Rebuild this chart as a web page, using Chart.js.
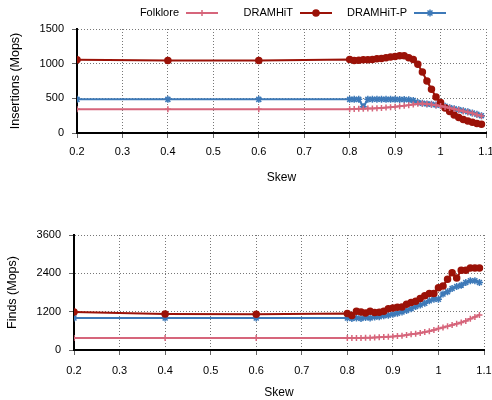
<!DOCTYPE html>
<html>
<head>
<meta charset="utf-8">
<script src="https://cdn.jsdelivr.net/npm/chart.js@4.4.0/dist/chart.umd.min.js"></script>
<style>
  body { margin: 0; background: #fff; }
  .box { position: absolute; left: 0; width: 492px; }
  #top { top: 0; height: 196px; }
  #bottom { top: 200px; height: 200px; }
</style>
</head>
<body>
<div class="box" id="top"><canvas id="insChart"></canvas></div>
<div class="box" id="bottom"><canvas id="findChart"></canvas></div>
<script>
const skew = [0.2, 0.4, 0.6, 0.8, 0.81, 0.82, 0.83, 0.84, 0.85, 0.86, 0.87, 0.88, 0.89, 0.9,
  0.91, 0.92, 0.93, 0.94, 0.95, 0.96, 0.97, 0.98, 0.99, 1.0,
  1.01, 1.02, 1.03, 1.04, 1.05, 1.06, 1.07, 1.08, 1.09];

// insertions (Mops)
const folkloreIns = [344, 342, 342, 344, 345, 348, 350, 352, 355, 358, 362, 366, 370, 377,
  385, 393, 402, 412, 422, 425, 418, 410, 400, 390,
  375, 360, 345, 330, 315, 300, 285, 265, 245];
const dramhitIns = [1058, 1045, 1045, 1060, 1045, 1050, 1055, 1055, 1060, 1070, 1075, 1085, 1095, 1105,
  1115, 1115, 1085, 1060, 990, 880, 750, 630, 520, 440,
  360, 310, 260, 225, 195, 172, 155, 138, 125];
const dramhitPIns = [485, 485, 485, 485, 485, 485, 380, 485, 487, 487, 487, 485, 485, 485,
  483, 483, 480, 470, 440, 430, 420, 415, 405, 400,
  385, 365, 350, 335, 320, 305, 290, 270, 250];

// finds (Mops)
const folkloreFind = [376, 378, 378, 376, 377, 378, 379, 381, 385, 390, 396, 404, 412, 420,
  435, 450, 468, 490, 512, 535, 560, 590, 625, 670,
  705, 740, 780, 820, 860, 910, 975, 1035, 1095];
const dramhitFind = [1190, 1127, 1120, 1140, 1077, 1212, 1190, 1160, 1210, 1175, 1180, 1210, 1295, 1315,
  1335, 1350, 1430, 1485, 1530, 1610, 1700, 1770, 1770, 1945,
  2000, 2215, 2415, 2255, 2495, 2495, 2570, 2570, 2570];
const dramhitPFind = [1000, 1000, 1000, 1000, 985, 1000, 985, 1015, 1000, 1030, 1040, 1070, 1090, 1120,
  1150, 1190, 1240, 1295, 1360, 1410, 1465, 1540, 1590, 1590,
  1750, 1820, 1925, 1990, 2030, 2115, 2170, 2170, 2115];

const seriesNames = ['Folklore', 'DRAMHiT', 'DRAMHiT-P'];
const insTicks = [0, 500, 1000, 1500];
const findTicks = [0, 1200, 2400, 3600];

const colors = ['#d6657b', '#9b1208', '#3d79b8'];
const markers = ['cross', 'circle', 'star'];
const markerSize = [3, 3, 3.5];
const FONT = '"Liberation Sans", Arial, sans-serif';

Chart.defaults.font.family = FONT;
Chart.defaults.color = '#000';

function makeSets(values) {
  return values.map((vals, i) => ({
    label: seriesNames[i],
    data: skew.map((x, j) => ({ x: x, y: vals[j] })),
    borderColor: colors[i],
    backgroundColor: colors[i],
    borderWidth: 2,
    pointStyle: markers[i],
    pointRadius: markerSize[i],
    pointBorderWidth: 1.5,
    tension: 0
  }));
}

// gnuplot-like legend: text first, then line sample with marker
const keyPlugin = {
  id: 'key',
  afterDraw(chart) {
    const ctx = chart.ctx;
    const textEnd = [179, 293, 407];
    ctx.save();
    ctx.font = '11px ' + FONT;
    ctx.textAlign = 'right';
    ctx.textBaseline = 'middle';
    chart.data.datasets.forEach((ds, i) => {
      const y = 13;
      ctx.fillStyle = '#000';
      ctx.fillText(ds.label, textEnd[i], y);
      const x0 = textEnd[i] + 7, x1 = x0 + 32;
      ctx.strokeStyle = ds.borderColor;
      ctx.fillStyle = ds.backgroundColor;
      ctx.lineWidth = 2;
      ctx.beginPath();
      ctx.moveTo(x0, y);
      ctx.lineTo(x1, y);
      ctx.stroke();
      ctx.lineWidth = 1.5;
      Chart.helpers.drawPoint(ctx, {
        pointStyle: ds.pointStyle, radius: ds.pointRadius, borderWidth: 1.5, rotation: 0
      }, (x0 + x1) / 2, y);
    });
    ctx.restore();
  }
};

function makeOptions(o) {
  return {
    responsive: true,
    maintainAspectRatio: false,
    animation: false,
    layout: { padding: { top: o.padTop, right: o.padRight, left: 0, bottom: 0 } },
    plugins: { legend: { display: false }, tooltip: { enabled: false } },
    scales: {
      x: {
        type: 'linear',
        min: 0.2,
        max: 1.1,
        afterFit(s) { s.height = o.xHeight; s.paddingLeft = 0; s.paddingRight = 0; },
        ticks: {
          stepSize: 0.1,
          padding: o.xTickPad,
          font: { size: 11 },
          callback: v => String(Math.round(v * 10) / 10)
        },
        grid: { color: '#777', tickLength: 5, tickColor: '#666' },
        border: { color: '#000', width: 2, dash: [1, 2] },
        title: { display: true, text: 'Skew', font: { size: 12 }, padding: { top: 0, bottom: o.titlePad } }
      },
      y: {
        min: o.yTicks[0],
        max: o.yTicks[o.yTicks.length - 1],
        afterFit(s) { s.width = o.yWidth; },
        afterBuildTicks(s) { s.ticks = o.yTicks.map(v => ({ value: v })); },
        ticks: { padding: 8, font: { size: 11 }, callback: v => String(v) },
        grid: { color: '#777', tickLength: 5, tickColor: '#666' },
        border: { color: '#000', width: 2, dash: [1, 2] },
        title: { display: true, text: o.yTitle, font: { size: 12.5 }, padding: { top: o.yTitlePad, bottom: 0 } }
      }
    }
  };
}

new Chart(document.getElementById('insChart'), {
  type: 'line',
  data: { datasets: makeSets([folkloreIns, dramhitIns, dramhitPIns]) },
  options: makeOptions({
    padTop: 29, padRight: 6, xHeight: 63, xTickPad: 7, titlePad: 11,
    yWidth: 77, yTicks: insTicks, yTitle: 'Insertions (Mops)', yTitlePad: 8
  }),
  plugins: [keyPlugin]
});

new Chart(document.getElementById('findChart'), {
  type: 'line',
  data: { datasets: makeSets([folkloreFind, dramhitFind, dramhitPFind]) },
  options: makeOptions({
    padTop: 35, padRight: 8, xHeight: 50, xTickPad: 9, titlePad: 0,
    yWidth: 74, yTicks: findTicks, yTitle: 'Finds (Mops)', yTitlePad: 5
  })
});
</script>
</body>
</html>
